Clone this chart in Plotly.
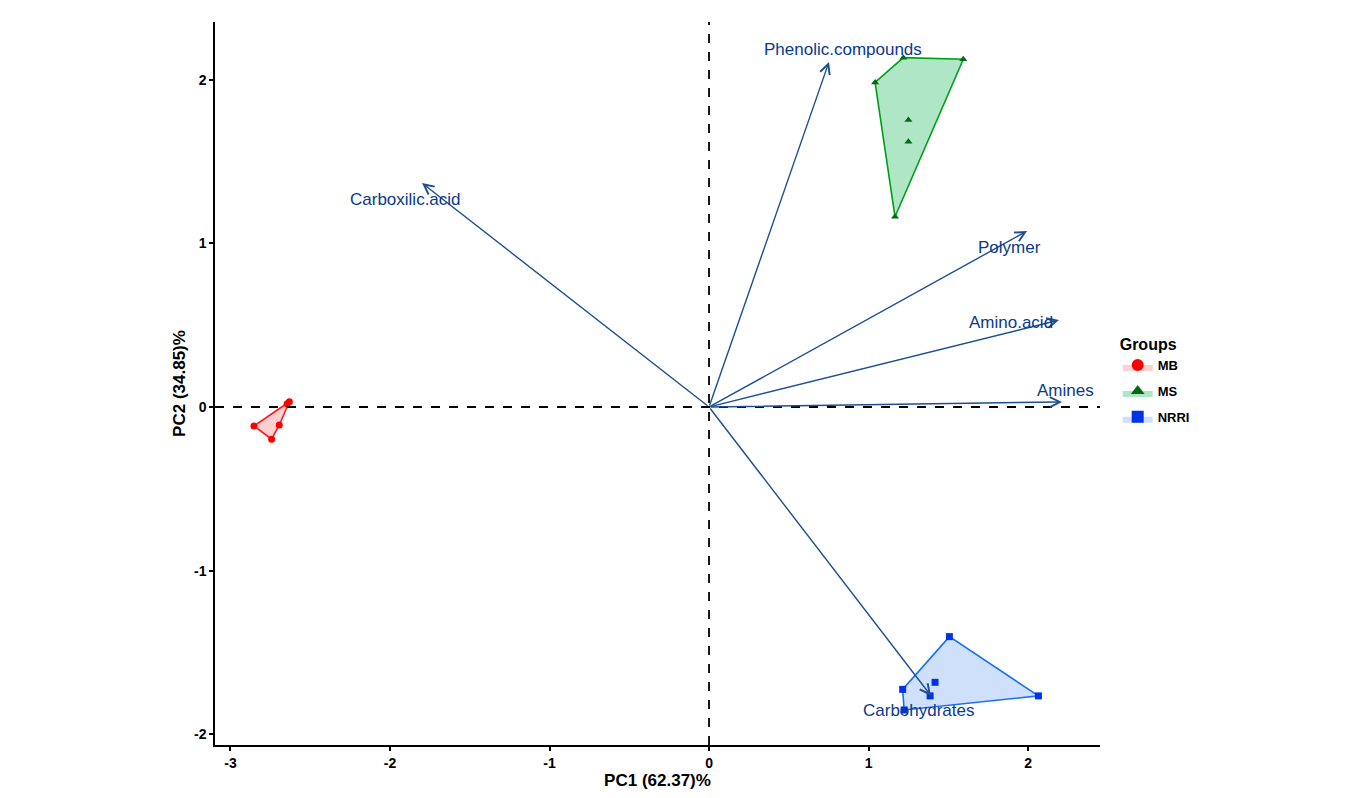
import plotly.graph_objects as go

# ---- data ----
groups = ["MB", "MS", "NRRI"]
mb_x = [-2.631, -2.853, -2.694, -2.742, -2.645]
mb_y = [0.032, -0.116, -0.110, -0.197, 0.020]
ms_x = [1.041, 1.218, 1.594, 1.250, 1.250, 1.166]
ms_y = [1.983, 2.134, 2.124, 1.753, 1.621, 1.162]
nrri_x = [1.507, 2.065, 1.214, 1.417, 1.386, 1.223]
nrri_y = [-1.403, -1.765, -1.725, -1.682, -1.765, -1.851]

variables = ["Phenolic.compounds", "Carboxilic.acid", "Polymer", "Amino.acid", "Amines", "Carbohydrates"]
load_x = [0.752, -1.799, 1.994, 2.194, 2.213, 1.392]
load_y = [2.108, 1.368, 1.075, 0.531, 0.031, -1.765]
# label offsets in pixels (style)
lab_dx = [14, -17, -18, -48, 3, -12]
lab_dy = [12, -16, -16, -2, 11, -15]

x_ticks = [-3, -2, -1, 0, 1, 2]
x_ticklabels = ["-3", "-2", "-1", "0", "1", "2"]
y_ticks = [-2, -1, 0, 1, 2]
y_ticklabels = ["-2", "-1", "0", "1", "2"]

line_colors = ["#FF1A1A", "#009E1A", "#1A6FFF"]
fill_colors = ["rgba(255,170,170,0.55)", "rgba(110,210,150,0.55)", "rgba(160,195,245,0.5)"]
marker_colors = ["#FF0000", "#006B12", "#0033E6"]
symbols = ["circle", "triangle-up", "square"]
vec_color = "#1D4F91"
lab_color = "#0B3A8C"
FONT = "Liberation Sans, Arial"


def hull(xs, ys):
    pts = sorted(set(zip(xs, ys)))
    if len(pts) < 3:
        return pts

    def cross(o, a, b):
        return (a[0] - o[0]) * (b[1] - o[1]) - (a[1] - o[1]) * (b[0] - o[0])

    lower, upper = [], []
    for p in pts:
        while len(lower) >= 2 and cross(lower[-2], lower[-1], p) <= 0:
            lower.pop()
        lower.append(p)
    for p in reversed(pts):
        while len(upper) >= 2 and cross(upper[-2], upper[-1], p) <= 0:
            upper.pop()
        upper.append(p)
    return lower[:-1] + upper[:-1]


fig = go.Figure()
data = [(mb_x, mb_y), (ms_x, ms_y), (nrri_x, nrri_y)]
for i, (g, (xs, ys)) in enumerate(zip(groups, data)):
    h = hull(xs, ys)
    hx = [p[0] for p in h] + [h[0][0]]
    hy = [p[1] for p in h] + [h[0][1]]
    fig.add_trace(go.Scatter(
        x=hx, y=hy, mode="lines", fill="toself", fillcolor=fill_colors[i],
        line=dict(color=line_colors[i], width=1.6), name=g, legendgroup=g,
        showlegend=False, hoverinfo="skip"))
    fig.add_trace(go.Scatter(
        x=xs, y=ys, mode="markers", name=g, legendgroup=g, showlegend=False,
        marker=dict(color=marker_colors[i], symbol=symbols[i], size=7)))
    # legend entry
    fig.add_trace(go.Scatter(
        x=[None], y=[None], mode="markers", name=g, legendgroup=g,
        fill="toself", fillcolor=fill_colors[i],
        line=dict(color=line_colors[i], width=1.6),
        marker=dict(color=marker_colors[i], symbol=symbols[i], size=7)))

# reference lines
fig.add_hline(y=0, line=dict(color="black", width=1.8, dash="dash"))
fig.add_vline(x=0, line=dict(color="black", width=1.8, dash="dash"))

anns = []
for v, lx, ly, dx, dy in zip(variables, load_x, load_y, lab_dx, lab_dy):
    anns.append(dict(x=lx, y=ly, ax=0, ay=0, xref="x", yref="y", axref="x", ayref="y",
                     showarrow=True, arrowhead=5, arrowsize=1.4, arrowwidth=1.4,
                     arrowcolor=vec_color, standoff=0, startstandoff=0, text=""))
    anns.append(dict(x=lx, y=ly, xref="x", yref="y", text=v, showarrow=False,
                     xshift=dx, yshift=dy,
                     font=dict(family=FONT, size=17, color=lab_color)))

fig.update_layout(
    width=1356, height=798,
    plot_bgcolor="white", paper_bgcolor="white",
    margin=dict(l=207, r=264, t=14, b=61),
    annotations=anns,
    font=dict(family=FONT, color="black"),
    legend=dict(title=dict(text="<b>Groups</b>", font=dict(size=16)),
                x=1.02, y=0.575, xanchor="left", yanchor="top",
                font=dict(size=13, weight="bold"), itemsizing="constant",
                tracegroupgap=6),
    showlegend=True,
)
fig.update_xaxes(range=[-3.097, 2.451], showgrid=False, zeroline=False,
                 showline=True, linecolor="black", linewidth=1.5,
                 ticks="outside", ticklen=4, tickcolor="black", tickwidth=1.5,
                 tickvals=x_ticks, ticktext=x_ticklabels,
                 tickfont=dict(size=14, family=FONT, weight="bold"),
                 title=dict(text="<b>PC1 (62.37)%</b>", font=dict(size=17), standoff=4))
fig.update_yaxes(range=[-2.065, 2.352], showgrid=False, zeroline=False,
                 showline=True, linecolor="black", linewidth=1.5,
                 ticks="outside", ticklen=4, tickcolor="black", tickwidth=1.5,
                 tickvals=y_ticks, ticktext=y_ticklabels,
                 tickfont=dict(size=14, family=FONT, weight="bold"),
                 title=dict(text="<b>PC2 (34.85)%</b>", font=dict(size=17), standoff=4))

fig.write_html("out.html")
